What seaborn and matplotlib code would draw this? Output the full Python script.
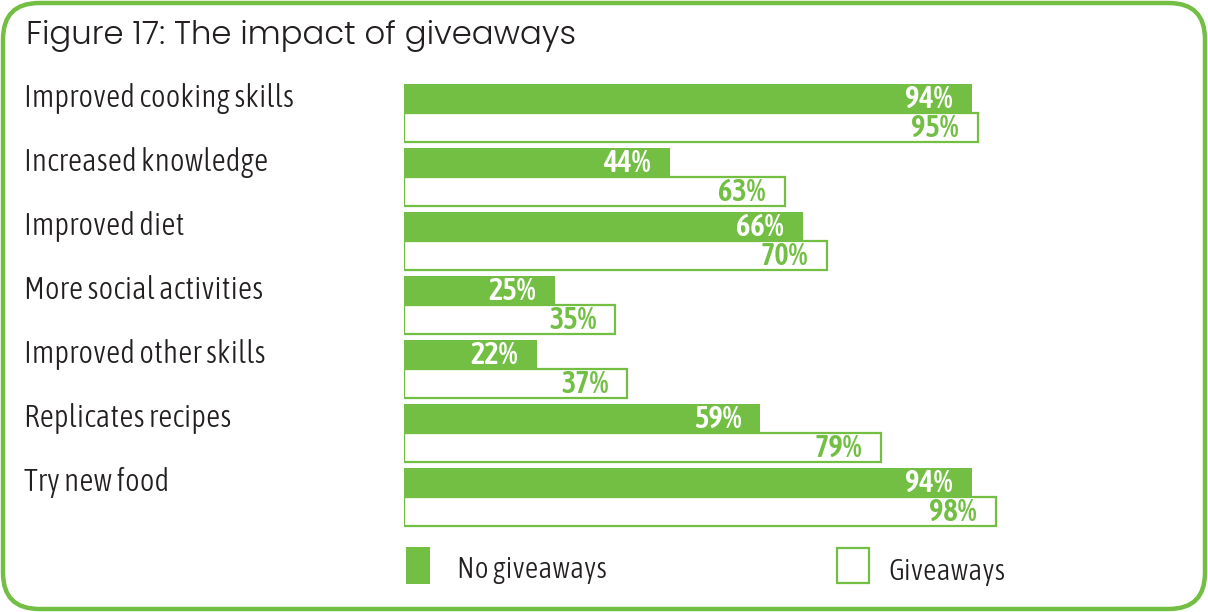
import matplotlib
matplotlib.use("Agg")
import matplotlib.pyplot as plt
from matplotlib.patches import FancyBboxPatch, Rectangle
import pandas as pd
import seaborn as sns

categories = [
    "Improved cooking skills",
    "Increased knowledge",
    "Improved diet",
    "More social activities",
    "Improved other skills",
    "Replicates recipes",
    "Try new food",
]
no_giveaways = [94, 44, 66, 25, 22, 59, 94]
giveaways = [95, 63, 70, 35, 37, 79, 98]
series_names = ["No giveaways", "Giveaways"]
title = "Figure 17: The impact of giveaways"

GREEN = "#72bf44"
DARK = "#231f20"
NARROW = ["Asap Condensed", "DejaVu Sans"]
TITLE_FONT = ["Poppins", "Open Sans", "DejaVu Sans"]

df = pd.DataFrame({
    "category": categories * 2,
    "value": no_giveaways + giveaways,
    "series": [series_names[0]] * len(categories) + [series_names[1]] * len(categories),
})

sns.set_theme(style="white")
W, H = 1208, 612
fig = plt.figure(figsize=(W / 100, H / 100), dpi=100)
fig.patch.set_facecolor("white")

# plot area: x 0..100 spans px 404..1008, rows are 64 px apart
ax = fig.add_axes([404 / W, (H - 529) / H, 604 / W, 448 / H])
sns.barplot(data=df, x="value", y="category", hue="series", order=categories,
            hue_order=series_names, orient="h", width=0.9, ax=ax,
            legend=False, saturation=1)

for bar in ax.containers[0]:
    bar.set_facecolor(GREEN)
    bar.set_edgecolor("none")
for bar in ax.containers[1]:
    bar.set_facecolor("white")
    bar.set_edgecolor(GREEN)
    bar.set_linewidth(1.6)

ax.set_xlim(0, 100)
ax.set_ylim(len(categories) - 0.5, -0.5)
ax.axis("off")

# value labels inside bar ends
for cont, color in zip(ax.containers, ["white", GREEN]):
    for bar in cont:
        v = bar.get_width()
        yc = bar.get_y() + bar.get_height() / 2
        ax.annotate(f"{v:.0f}%", xy=(v, yc), xytext=(-19, -1), textcoords="offset pixels",
                    ha="right", va="center", color=color, fontsize=22,
                    fontweight=600, family=NARROW)

# category labels aligned with the filled bar
for bar, name in zip(ax.containers[0], categories):
    yc = bar.get_y() + bar.get_height() / 2
    _, ypix = ax.transData.transform((0, yc))
    fig.text(24 / W, ypix / H, name, ha="left", va="center", color=DARK,
             fontsize=22.5, fontweight=300, family=NARROW)

fig.text(26 / W, 1 - 36 / H, title, ha="left", va="center", color=DARK,
         fontsize=23.3, fontweight=300, family=TITLE_FONT)

# legend
fig.patches.append(Rectangle((406 / W, 1 - 584 / H), 24 / W, 37 / H,
                             transform=fig.transFigure, facecolor=GREEN,
                             edgecolor="none", figure=fig))
fig.text(457 / W, 1 - 570 / H, series_names[0], ha="left", va="center",
         color=DARK, fontsize=21.5, fontweight=300, family=NARROW)
fig.patches.append(Rectangle((837 / W, 1 - 583 / H), 32 / W, 35 / H,
                             transform=fig.transFigure, facecolor="white",
                             edgecolor=GREEN, linewidth=1.6, figure=fig))
fig.text(888 / W, 1 - 572 / H, series_names[1], ha="left", va="center",
         color=DARK, fontsize=21.5, fontweight=300, family=NARROW)

# rounded green frame
fig.patches.append(FancyBboxPatch((3 / W, 3 / H), (W - 6) / W, (H - 6) / H,
                                  boxstyle="round,pad=0,rounding_size=0.03",
                                  transform=fig.transFigure, facecolor="none",
                                  edgecolor=GREEN, linewidth=3.2, figure=fig,
                                  mutation_aspect=W / H))

fig.savefig("out.png", dpi=100)
